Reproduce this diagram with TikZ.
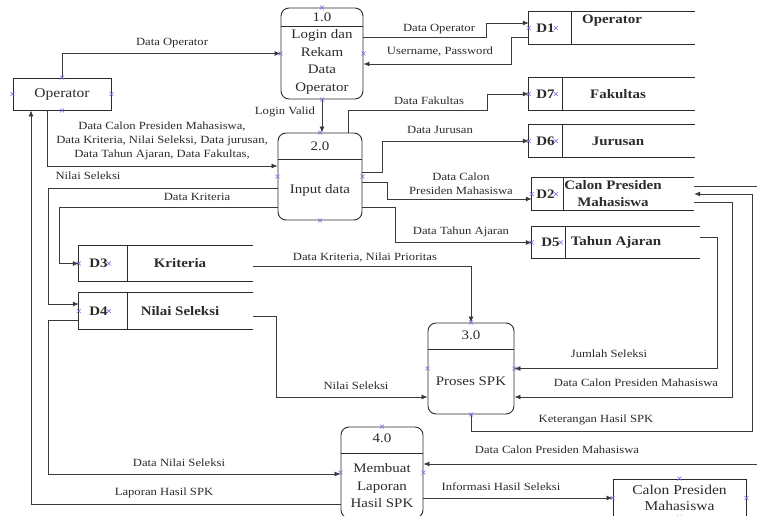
\documentclass[tikz,border=0pt]{standalone}
\usepackage{fontspec}
\setmainfont{Liberation Serif}[FakeStretch=1.15]
\usetikzlibrary{arrows.meta,positioning,calc}
\definecolor{ink}{HTML}{2B2B2B}
\definecolor{flow}{HTML}{3A3A3A}
\definecolor{cpblue}{HTML}{6A6AF5}

\begin{document}
\begin{tikzpicture}[x=1pt,y=-1pt,
    proc/.style={draw=ink,rounded corners=8pt,line width=0.9pt,minimum width=82pt,minimum height=91pt,inner sep=0pt},
    ent/.style={draw=ink,line width=0.9pt,minimum width=98pt,minimum height=32pt,inner sep=0pt,text=ink,align=center,font=\fontsize{13.5}{16}\selectfont},
    store/.style={minimum height=32pt,inner sep=0pt},
    ptxt/.style={text=ink,font=\fontsize{13}{17.5}\selectfont,align=center,inner sep=0pt},
    stxt/.style={text=ink,font=\fontsize{13}{17}\selectfont\bfseries,align=center,inner sep=1pt},
    lbl/.style={text=ink,font=\fontsize{11}{14}\selectfont,align=center,inner sep=0pt},
    edge/.style={draw=ink,line width=0.9pt},
    arr/.style={-{Latex[length=6pt,width=5pt]},line width=0.8pt,draw=flow},
    pics/cpx/.style={code={\draw[cpblue,line width=0.5pt] (-2pt,-2pt) -- (2pt,2pt) (-2pt,2pt) -- (2pt,-2pt);}}
]
    \useasboundingbox (0,0) rectangle (757,516);
    \clip (0,0) rectangle (757,516);

    % external entities
    \node[ent] (op) at (62,94) {Operator};
    \node[ent,minimum width=133pt,minimum height=38pt] (ext) at (679.5,498) {Calon Presiden\\Mahasiswa};

    % processes
    \node[proc] (P1) at (322,53.5) {};
    \node[ptxt] (numP1) at (322,17) {1.0};
    \node[ptxt] (txtP1) at (322,62) {Login dan\\Rekam\\Data\\Operator};
    \draw[edge] (P1.west |- 0,26) -- (P1.east |- 0,26);

    \node[proc,minimum width=84pt,minimum height=87pt] (P2) at (320,176.5) {};
    \node[ptxt] (numP2) at (320,146) {2.0};
    \node[ptxt] (txtP2) at (320,190) {Input data};
    \draw[edge] (P2.west |- 0,159) -- (P2.east |- 0,159);

    \node[proc,minimum width=86pt] (P3) at (471,368.5) {};
    \node[ptxt] (numP3) at (471,335) {3.0};
    \node[ptxt] (txtP3) at (471,381) {Proses SPK};
    \draw[edge] (P3.west |- 0,349) -- (P3.east |- 0,349);

    \node[proc] (P4) at (382,472.5) {};
    \node[ptxt] (numP4) at (382,438) {4.0};
    \node[ptxt] (txtP4) at (382,486) {Membuat\\Laporan\\Hasil SPK};
    \draw[edge] (P4.west |- 0,453) -- (P4.east |- 0,453);

    % data stores
    \node[store,minimum width=166pt] (D1) at (612,28) {};
    \node[stxt] (idD1) at (545.5,28) {D1};
    \node[stxt] (txD1) at (612,21) {Operator};
    \node[store,minimum width=166pt] (D7) at (612,94) {};
    \node[stxt] (idD7) at (545.5,94) {D7};
    \node[stxt] (txD7) at (618,94) {Fakultas};
    \node[store,minimum width=166pt] (D6) at (612,141) {};
    \node[stxt] (idD6) at (545.5,141) {D6};
    \node[stxt] (txD6) at (618,141) {Jurusan};
    \node[store,minimum width=162pt] (D2) at (613,194) {};
    \node[stxt] (idD2) at (545.5,194) {D2};
    \node[stxt] (txD2) at (613,194) {Calon Presiden\\Mahasiswa};
    \node[store,minimum width=168pt,minimum height=31pt] (D5) at (616,242.5) {};
    \node[stxt] (idD5) at (550.5,242.5) {D5};
    \node[stxt] (txD5) at (616,242) {Tahun Ajaran};
    \node[store,minimum width=174pt,minimum height=35pt] (D3) at (166,263.5) {};
    \node[stxt] (idD3) at (98.5,263.5) {D3};
    \node[stxt] (txD3) at (180,263) {Kriteria};
    \node[store,minimum width=174pt,minimum height=36pt] (D4) at (166,311) {};
    \node[stxt] (idD4) at (98.5,311) {D4};
    \node[stxt] (txD4) at (180,311) {Nilai Seleksi};

    \foreach \s in {D1,D7,D6,D2,D5,D3,D4}
        \draw[edge] (\s.north east) -- (\s.north west) -- (\s.south west) -- (\s.south east);
    \foreach \s/\d in {D1/43,D7/34,D6/34,D2/32,D5/34,D3/49,D4/49}
        \draw[edge] ([xshift=\d pt]\s.north west) -- ([xshift=\d pt]\s.south west);

    % flows
    \draw[arr] (op.north) |- (P1.west);
    \draw[arr] (P1.east |- 0,37) -| (486,23) -- (D1.west |- 0,23);
    \draw[arr] (D1.west |- 0,37) -| (511,64) -- (P1.east |- 0,64);
    \draw[arr] (P1.south) -- (P1.south |- P2.north);
    \draw[arr] (op.south -| 47,0) |- (P2.west |- 0,166);
    \draw[arr] (P2.north -| 348,0) |- (487,110) |- (D7.west);
    \draw[arr] (P2.east |- 0,172) -| (382,141) -- (D6.west);
    \draw[arr] (P2.east |- 0,182) -| (387,199) -- (D2.west |- 0,199);
    \draw[arr] (P2.east |- 0,207) -| (395,242.5) -- (D5.west);
    \draw[arr] (P2.west |- 0,188) -| (48,304) -- (D4.west |- 0,304);
    \draw[arr] (P2.west |- 0,207) -| (59,263.5) -- (D3.west);
    \draw[arr] (D3.east |- 0,266) -| (P3.north);
    \draw[arr] (D4.east |- 0,316) -| (276,397) -- (P3.west |- 0,397);
    \draw[arr] (D5.east |- 0,237) -| (717,368.5) -- (P3.east);
    \draw[arr] (D2.east |- 0,202) -| (732,397) -- (P3.east |- 0,397);
    \draw[arr] (P3.south) |- (752,431) |- (D2.east |- 0,194);
    \draw[arr] (D2.east |- 0,186) -| (775,464) -- (P4.east |- 0,464);
    \draw[arr] (P4.west |- 0,504) -| (op.south -| 31,0);
    \draw[arr] (D4.west |- 0,320) -| (48,474) -- (P4.west |- 0,474);
    \draw[arr] (P4.east |- 0,498) -- (ext.west);

    % flow labels
    \node[lbl] (lOpIn) at (172,43) {Data Operator};
    \node[lbl] (lOpSave) at (439,29) {Data Operator};
    \node[lbl] (lUser) at (440,52) {Username, Password};
    \node[lbl] (lLogin) at (285,112) {Login Valid};
    \node[lbl] (lInput) at (162,141) {Data Calon Presiden Mahasiswa,\\Data Kriteria, Nilai Seleksi, Data jurusan,\\Data Tahun Ajaran, Data Fakultas,};
    \node[lbl] (lFak) at (429,101) {Data Fakultas};
    \node[lbl] (lJur) at (440,130) {Data Jurusan};
    \node[lbl] (lCalon) at (461,184) {Data Calon\\Presiden Mahasiswa};
    \node[lbl] (lTahun) at (461,232) {Data Tahun Ajaran};
    \node[lbl] (lNilai) at (88,176) {Nilai Seleksi};
    \node[lbl] (lKrit) at (197,197) {Data Kriteria};
    \node[lbl] (lPrior) at (365,258) {Data Kriteria, Nilai Prioritas};
    \node[lbl] (lNilaiSpk) at (356,386) {Nilai Seleksi};
    \node[lbl] (lJumlah) at (609,354) {Jumlah Seleksi};
    \node[lbl] (lCalonSpk) at (636,383) {Data Calon Presiden Mahasiswa};
    \node[lbl] (lKet) at (596,420) {Keterangan Hasil SPK};
    \node[lbl] (lCalonLap) at (557,450) {Data Calon Presiden Mahasiswa};
    \node[lbl] (lLaporan) at (164,493) {Laporan Hasil SPK};
    \node[lbl] (lDataNilai) at (179,463) {Data Nilai Seleksi};
    \node[lbl] (lInfo) at (501,487) {Informasi Hasil Seleksi};

    % connection points
    \foreach \p in {op.north,op.south,op.east,op.west,ext.north,ext.south,ext.east,ext.west,
                    P1.north,P1.south,P1.east,P1.west,P2.north,P2.south,P2.east,P2.west,
                    P3.north,P3.south,P3.east,P3.west,P4.north,P4.east,P4.west}
        \path (\p) pic{cpx};
    \foreach \s in {D1,D7,D6,D2,D5,D3,D4}
        \path (\s.west) pic{cpx} (id\s.east) pic{cpx};
\end{tikzpicture}
\end{document}
